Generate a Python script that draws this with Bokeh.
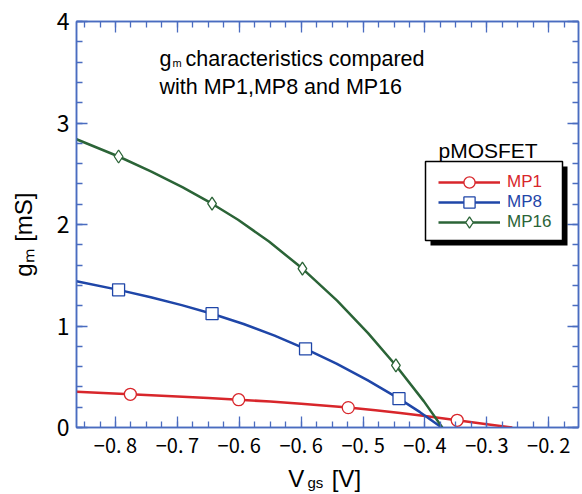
from bokeh.plotting import figure
from bokeh.models import (LinearAxis, FixedTicker, Label, Legend, LegendItem,
                          BoxAnnotation, Range1d)
from bokeh.embed import file_html
from bokeh.resources import INLINE

# ---------------- data ----------------
# x positions are on the axis' own scale (major ticks every 0.1)
x_ticks = [-0.9, -0.8, -0.7, -0.6, -0.5, -0.4, -0.3, -0.2]
x_tick_labels = ["\u22120. 8", "\u22120. 7", "\u22120. 6", "\u22120. 6",
                 "\u22120. 5", "\u22120. 4", "\u22120. 3", "\u22120. 2"]
y_ticks = [0, 1, 2, 3, 4]
y_tick_labels = ["0", "1", "2", "3", "4"]

# MP1 (red, circles)
mp1_line_x = [-0.963, -0.92, -0.876, -0.80, -0.75, -0.701, -0.65, -0.60, -0.524,
              -0.48, -0.44, -0.40, -0.348, -0.30, -0.259]
mp1_line_y = [0.353, 0.340, 0.327, 0.305, 0.290, 0.274, 0.255, 0.233, 0.196,
              0.170, 0.143, 0.113, 0.071, 0.033, 0.0]
mp1_pts_x = [-0.876, -0.701, -0.524, -0.348]
mp1_pts_y = [0.327, 0.274, 0.196, 0.071]

# MP8 (blue, squares)
mp8_line_x = [-0.963, -0.895, -0.843, -0.793, -0.744, -0.693, -0.643, -0.593,
              -0.543, -0.493, -0.442, -0.408, -0.373]
mp8_line_y = [1.441, 1.356, 1.284, 1.206, 1.121, 1.020, 0.905, 0.775,
              0.629, 0.466, 0.284, 0.151, 0.0]
mp8_pts_x = [-0.895, -0.744, -0.593, -0.442]
mp8_pts_y = [1.356, 1.121, 0.775, 0.284]

# MP16 (green, diamonds)
mp16_line_x = [-0.963, -0.895, -0.842, -0.792, -0.744, -0.702, -0.652, -0.598,
               -0.542, -0.492, -0.447, -0.402, -0.372]
mp16_line_y = [2.840, 2.670, 2.522, 2.368, 2.205, 2.047, 1.832, 1.566,
               1.250, 0.930, 0.611, 0.260, 0.0]
mp16_pts_x = [-0.895, -0.744, -0.598, -0.447]
mp16_pts_y = [2.670, 2.205, 1.566, 0.611]

series_names = ["MP1", "MP8", "MP16"]

# axis titles (text pieces and where they sit along the axis)
x_title_main = ["V", "[V]"]
x_title_main_pos = [-0.608, -0.527]
x_title_sub = ["gs"]
x_title_sub_pos = [-0.577]
y_title = ["g\u2098 [mS]"]
y_title_pos = [1.90]

RED, BLUE, GREEN = "#d8262b", "#1f46a8", "#2b6437"
AXIS = "#4a6cc0"

# ---------------- figure ----------------
p = figure(width=582, height=494, output_backend="svg", toolbar_location=None,
           x_range=Range1d(-0.963, -0.152), y_range=Range1d(0, 4),
           min_border_left=76, min_border_right=4, min_border_top=21,
           min_border_bottom=65, x_axis_location=None, y_axis_location=None)
p.grid.visible = False
p.outline_line_color = AXIS
p.outline_line_width = 1.5
p.background_fill_color = "white"
p.border_fill_color = "white"

x_minor = [round(-0.95 + 0.025 * k, 3) for k in range(33)]
y_minor = [round(0.2 * k, 1) for k in range(21)]
xtick = FixedTicker(ticks=x_ticks, minor_ticks=x_minor)
ytick = FixedTicker(ticks=y_ticks, minor_ticks=y_minor)

TICK_FONT = "Noto Sans CJK JP"
FONT = "Liberation Sans"

def style(ax):
    ax.axis_line_color = AXIS
    ax.axis_line_width = 1.5
    ax.major_tick_line_color = AXIS
    ax.minor_tick_line_color = AXIS
    ax.major_tick_line_width = 1.3
    ax.minor_tick_line_width = 1.3
    ax.major_tick_in = 11
    ax.major_tick_out = 0
    ax.minor_tick_in = 6
    ax.minor_tick_out = 0

def text_axis(ticks, texts, size, standoff, font=FONT):
    ax = LinearAxis(ticker=FixedTicker(ticks=ticks, minor_ticks=[]))
    ax.major_label_overrides = {t: s for t, s in zip(ticks, texts)}
    ax.axis_line_alpha = 0
    ax.major_tick_line_alpha = 0
    ax.minor_tick_line_alpha = 0
    ax.major_tick_in = 0
    ax.major_tick_out = 0
    ax.minor_tick_in = 0
    ax.minor_tick_out = 0
    ax.major_label_text_font = font
    ax.major_label_text_font_size = size
    ax.major_label_text_color = "black"
    ax.major_label_standoff = standoff
    return ax

# bottom axis with tick labels
xb = LinearAxis(ticker=xtick)
style(xb)
xb.major_label_overrides = {t: l for t, l in zip(x_ticks, x_tick_labels)}
xb.major_label_text_font = TICK_FONT
xb.major_label_text_font_size = "20px"
xb.major_label_text_color = "black"
xb.major_label_standoff = 2
p.add_layout(xb, "below")
# x axis title: subscript "gs" first, then "V" and "[V]" pulled back up
p.add_layout(text_axis(x_title_sub_pos, x_title_sub, "15px", 12), "below")
p.add_layout(text_axis(x_title_main_pos, x_title_main, "24px", -29), "below")

# left axis with tick labels
yl = LinearAxis(ticker=ytick)
style(yl)
yl.major_label_overrides = {t: l for t, l in zip(y_ticks, y_tick_labels)}
yl.major_label_text_font = TICK_FONT
yl.major_label_text_font_size = "23px"
yl.major_label_text_color = "black"
yl.major_label_standoff = 7
p.add_layout(yl, "left")
ytitle = text_axis(y_title_pos, y_title, "24px", 16)
ytitle.major_label_orientation = "vertical"
p.add_layout(ytitle, "left")

# mirrored ticks on top and right, no labels
xt = LinearAxis(ticker=xtick)
style(xt)
xt.major_label_overrides = {t: "" for t in x_ticks}
xt.major_label_standoff = 0
p.add_layout(xt, "above")
yr = LinearAxis(ticker=ytick)
style(yr)
yr.major_label_overrides = {t: "" for t in y_ticks}
yr.major_label_standoff = 0
p.add_layout(yr, "right")

# ---------------- series ----------------
specs = [
    (mp1_line_x, mp1_line_y, mp1_pts_x, mp1_pts_y, RED, "circle", 12),
    (mp8_line_x, mp8_line_y, mp8_pts_x, mp8_pts_y, BLUE, "square", 12),
    (mp16_line_x, mp16_line_y, mp16_pts_x, mp16_pts_y, GREEN, "diamond", 13),
]
renderers = []
for lx, ly, px, py, col, mk, sz in specs:
    lr = p.line(lx, ly, line_color=col, line_width=2.5, line_join="round")
    sr = p.scatter(px, py, marker=mk, size=sz, line_color=col, line_width=1.3,
                   fill_color="white")
    renderers.append((lr, sr))

# ---------------- legend (box + three one-item legends) ----------------
shadow = BoxAnnotation(left=354, right=491, top=261, bottom=182,
                       left_units="screen", right_units="screen",
                       top_units="screen", bottom_units="screen",
                       fill_color="black", fill_alpha=1.0, line_alpha=0,
                       level="overlay")
box = BoxAnnotation(left=349, right=486, top=266, bottom=187,
                    left_units="screen", right_units="screen",
                    top_units="screen", bottom_units="screen",
                    fill_color="white", fill_alpha=1.0, line_color="black",
                    line_width=1.5, line_alpha=1.0, level="overlay")
p.add_layout(shadow)
p.add_layout(box)

row_centers = [245, 225, 205]
for (lr, sr), name, col, cy in zip(renderers, series_names, [RED, BLUE, GREEN], row_centers):
    lg = Legend(items=[LegendItem(label=name, renderers=[lr, sr])],
                location=(362, cy - 14), orientation="vertical",
                padding=0, margin=0, spacing=0, glyph_width=62,
                glyph_height=28, label_height=20, label_standoff=7,
                border_line_alpha=0, background_fill_alpha=0,
                label_text_color=col, label_text_font=FONT,
                label_text_font_size="17px", label_text_baseline="middle")
    lg.level = "overlay"
    p.add_layout(lg, "center")

# ---------------- texts inside the frame ----------------
def lab(text, x, y, size, color="black", font=FONT):
    p.add_layout(Label(x=x, y=y, x_units="screen", y_units="screen", text=text,
                       text_font=font, text_font_size=size, text_color=color,
                       text_align="left", text_baseline="alphabetic",
                       level="overlay"))

lab("g", 83, 369, "21.5px")
lab("m", 96, 365, "11px")
lab("characteristics compared", 109, 369, "21.5px")
lab("with MP1,MP8 and MP16", 83, 341, "21.5px")
lab("pMOSFET", 362, 277, "21px")

open("out.html", "w").write(file_html(p, INLINE))
